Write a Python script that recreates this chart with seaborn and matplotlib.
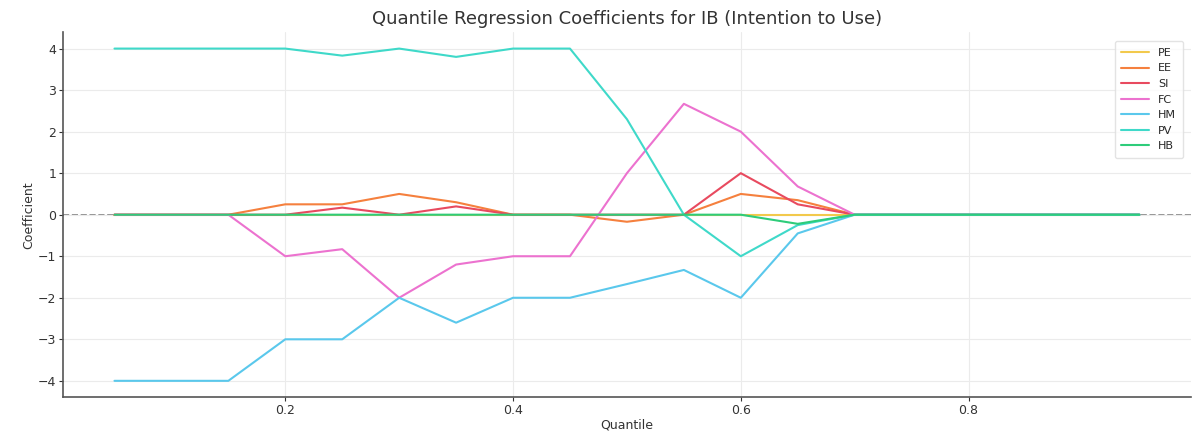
import numpy as np
import pandas as pd
import matplotlib
matplotlib.use("Agg")
import matplotlib.pyplot as plt
import seaborn as sns

quantiles = [0.05, 0.10, 0.15, 0.20, 0.25, 0.30, 0.35, 0.40, 0.45, 0.50,
             0.55, 0.60, 0.65, 0.70, 0.75, 0.80, 0.85, 0.90, 0.95]

pe = [0, 0, 0, 0, 0, 0, 0, 0, 0, 0, 0, 0, 0, 0, 0, 0, 0, 0, 0]
ee = [0, 0, 0, 0.25, 0.25, 0.5, 0.3, 0, 0, -0.17, 0, 0.5, 0.35, 0, 0, 0, 0, 0, 0]
si = [0, 0, 0, 0, 0.17, 0, 0.2, 0, 0, 0, 0, 1.0, 0.25, 0, 0, 0, 0, 0, 0]
fc = [0, 0, 0, -1.0, -0.83, -2.0, -1.2, -1.0, -1.0, 1.0, 2.67, 2.0, 0.68, 0, 0, 0, 0, 0, 0]
hm = [-4, -4, -4, -3, -3, -2, -2.6, -2, -2, -1.67, -1.33, -2, -0.45, 0, 0, 0, 0, 0, 0]
pv = [4, 4, 4, 4, 3.83, 4, 3.8, 4, 4, 2.3, 0, -1, -0.25, 0, 0, 0, 0, 0, 0]
hb = [0, 0, 0, 0, 0, 0, 0, 0, 0, 0, 0, 0, -0.22, 0, 0, 0, 0, 0, 0]

names = ["PE", "EE", "SI", "FC", "HM", "PV", "HB"]
series = [pe, ee, si, fc, hm, pv, hb]
colors = ["#f2c94c", "#f5803e", "#e84a5f", "#ec72cf", "#5ac8ec", "#3fd9c9", "#2ecc7a"]

df = pd.DataFrame({
    "Quantile": np.tile(quantiles, len(names)),
    "Coefficient": np.concatenate(series),
    "Variable": np.repeat(names, len(quantiles)),
})

sns.set_style("whitegrid")
plt.rcParams["font.family"] = ["DejaVu Sans"]

fig, ax = plt.subplots(figsize=(11.93, 4.32), dpi=100)
fig.subplots_adjust(left=0.053, right=0.998, top=0.926, bottom=0.08)

sns.lineplot(data=df, x="Quantile", y="Coefficient", hue="Variable",
             palette=colors, linewidth=1.5, ax=ax)
ax.axhline(0, color="gray", linestyle="--", linewidth=1.2, zorder=0)

ax.set_title("Quantile Regression Coefficients for IB (Intention to Use)",
             fontsize=13, color="#333333")
ax.set_xlabel("Quantile", fontsize=9, color="#333333", labelpad=1)
ax.set_ylabel("Coefficient", fontsize=9, color="#333333", labelpad=2)
ax.set_xticks([0.2, 0.4, 0.6, 0.8])
ax.set_yticks(range(-4, 5))
ax.tick_params(labelsize=9, colors="#333333", length=3, pad=2, left=True, bottom=True)
ax.grid(color="#ebebeb", linewidth=0.8)
for side in ["top", "right"]:
    ax.spines[side].set_visible(False)
for side in ["left", "bottom"]:
    ax.spines[side].set_color("#555555")
    ax.spines[side].set_linewidth(1.2)

leg = ax.legend(loc="upper right", fontsize=8, frameon=True, borderpad=0.6,
                handlelength=2.5, bbox_to_anchor=(0.998, 0.99))
leg.get_frame().set_edgecolor("#dddddd")

fig.savefig("out.png", dpi=100)
